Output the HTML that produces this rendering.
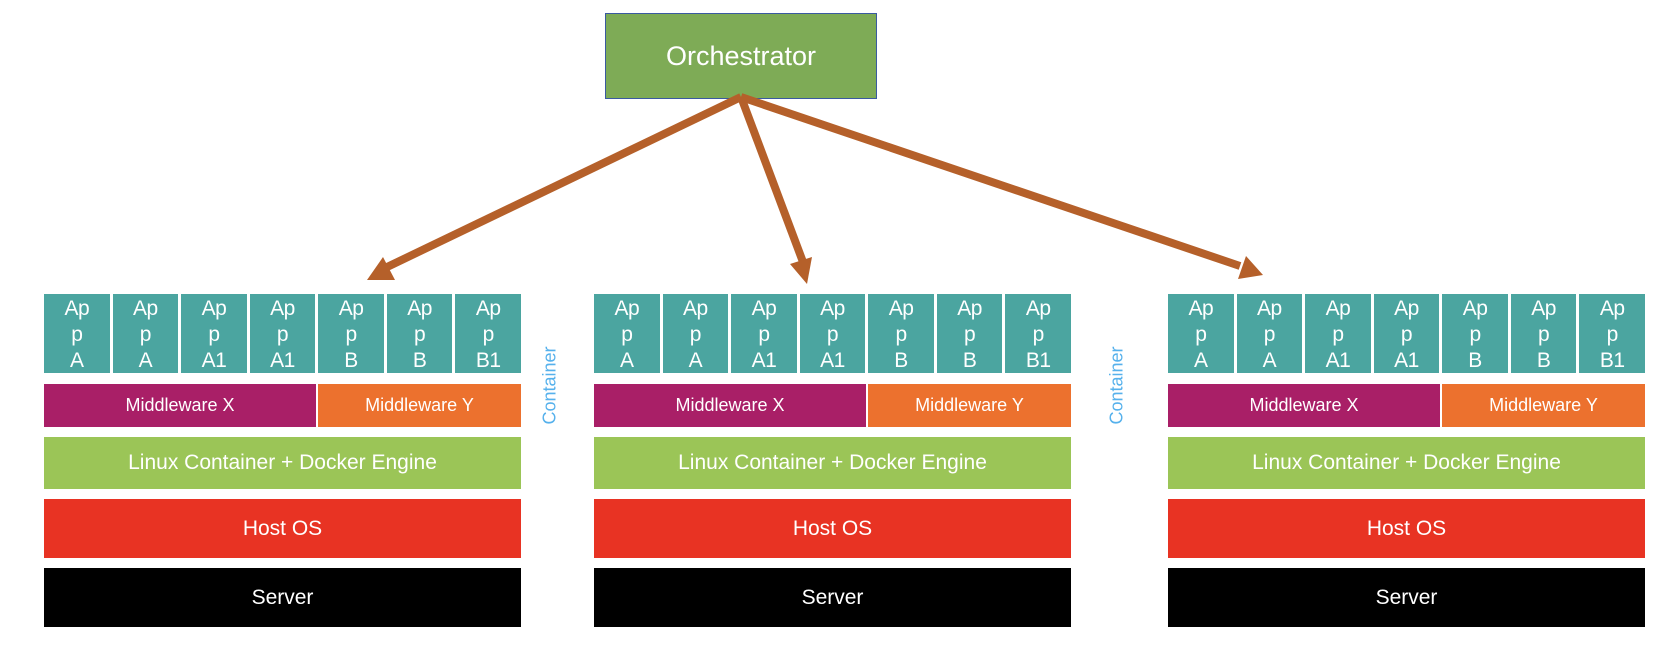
<!DOCTYPE html>
<html><head><meta charset="utf-8"><style>
body{margin:0;width:1662px;height:654px;background:#fff;position:relative;overflow:hidden;font-family:"Liberation Sans",sans-serif}
.b{position:absolute;color:#fff;display:flex;align-items:center;justify-content:center;text-align:center;box-sizing:border-box}
.app{background:#4ba5a0;font-size:21px;line-height:26px;flex-direction:column;letter-spacing:-0.5px;padding-top:3px}
.mx{background:#a91f67;font-size:18px}
.my{background:#ec712e;font-size:18px}
.lx{background:#9bc557;font-size:21px}
.ho{background:#e83323;font-size:21px}
.sv{background:#000;font-size:21px}
.ct{position:absolute;color:#56b1ec;font-size:18px;transform:rotate(-90deg);transform-origin:center;width:90px;text-align:center}
</style></head><body>
<div class="b" style="left:605px;top:13px;width:272px;height:86px;background:#7eab56;border:1.5px solid #3a5aa0;font-size:27px">Orchestrator</div>
<svg width="1662" height="654" style="position:absolute;left:0;top:0">
<g stroke="#b5602a" stroke-width="8" fill="#b5602a">
<line x1="741" y1="97" x2="385" y2="268"/>
<line x1="741" y1="97" x2="803" y2="262"/>
<line x1="741" y1="97" x2="1240" y2="266"/>
</g>
<g fill="#b5602a">
<polygon points="367,280 383,257 395,280"/>
<polygon points="807,284 790,264 812,257"/>
<polygon points="1263,275 1238,279 1246,256"/>
</g>
</svg>
<div id="s"></div>
<script>
var xs=[44,594,1168],w=477,h='';
var labels=[['Ap','p','A'],['Ap','p','A'],['Ap','p','A1'],['Ap','p','A1'],['Ap','p','B'],['Ap','p','B'],['Ap','p','B1']];
xs.forEach(function(x){
 var cw=(w+3)/7;
 for(var i=0;i<7;i++){
  h+='<div class="b app" style="left:'+(x+i*cw)+'px;top:294px;width:'+(cw-3)+'px;height:79px">'+labels[i].map(function(t){return '<span>'+t+'</span>'}).join('')+'</div>';
 }
 var sp=Math.round(4*cw)-2;
 h+='<div class="b mx" style="left:'+x+'px;top:384px;width:'+sp+'px;height:43px">Middleware X</div>';
 h+='<div class="b my" style="left:'+(x+sp+2)+'px;top:384px;width:'+(w-sp-2)+'px;height:43px">Middleware Y</div>';
 h+='<div class="b lx" style="left:'+x+'px;top:437px;width:'+w+'px;height:52px">Linux Container + Docker Engine</div>';
 h+='<div class="b ho" style="left:'+x+'px;top:499px;width:'+w+'px;height:59px">Host OS</div>';
 h+='<div class="b sv" style="left:'+x+'px;top:568px;width:'+w+'px;height:59px">Server</div>';
});
h+='<div class="ct" style="left:505px;top:375px">Container</div>';
h+='<div class="ct" style="left:1072px;top:375px">Container</div>';
document.getElementById('s').innerHTML=h;
</script>
</body></html>
